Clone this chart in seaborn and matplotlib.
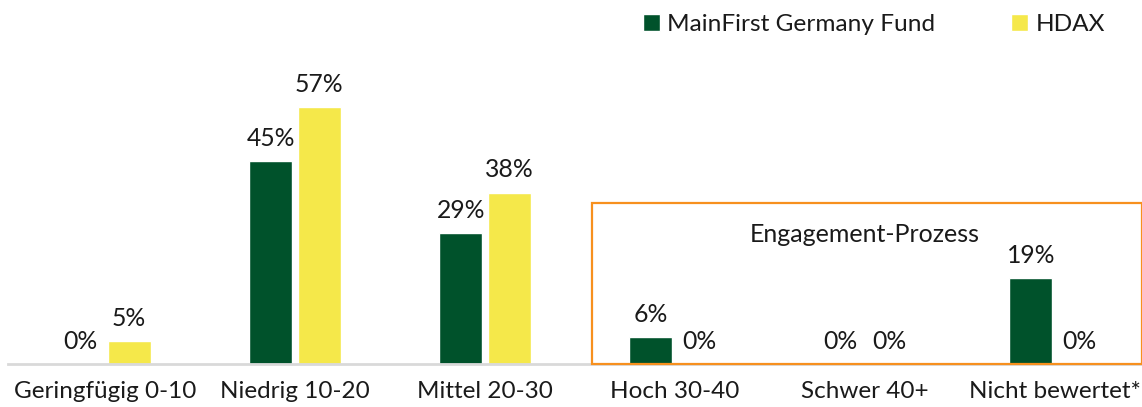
import pandas as pd
import numpy as np
import matplotlib
matplotlib.use("Agg")
import matplotlib.pyplot as plt
import seaborn as sns
from matplotlib.patches import Rectangle, Patch

# daten
kategorien = ["Geringfügig 0-10", "Niedrig 10-20", "Mittel 20-30",
              "Hoch 30-40", "Schwer 40+", "Nicht bewertet*"]
fonds = [0, 45, 29, 6, 0, 19]
hdax = [5, 57, 38, 0, 0, 0]
serien = ["MainFirst Germany Fund", "HDAX"]
box_titel = "Engagement-Prozess"

gruen = "#00522b"
gelb = "#f5e84a"
orange = "#f7901e"

df = pd.DataFrame({
    "kategorie": kategorien * 2,
    "wert": fonds + hdax,
    "serie": [serien[0]] * len(kategorien) + [serien[1]] * len(kategorien),
})

sns.set_style("white")
plt.rcParams["font.family"] = ["Lato", "DejaVu Sans"]

fig = plt.figure(figsize=(11.42, 4.07), dpi=100)
ax = fig.add_axes([8 / 1142, 43 / 407, 1 - 8 / 1142, 364 / 407])

sns.barplot(data=df, x="kategorie", y="wert", hue="serie", palette=[gruen, gelb],
            width=0.51, gap=0.11, saturation=1, legend=False, ax=ax)

for cont, werte in zip(ax.containers, [fonds, hdax]):
    ax.bar_label(cont, labels=[f"{v}%" for v in werte], padding=8,
                 fontsize=17.8, color="#1a1a1a")

ax.set_xlim(-0.51, 5.458)
ax.set_ylim(0, 80.7)
ax.set_xlabel("")
ax.set_ylabel("")
ax.set_yticks([])
ax.tick_params(axis="x", length=0, pad=12, labelsize=17.5, labelcolor="#1a1a1a")
for s in ["top", "left", "right"]:
    ax.spines[s].set_visible(False)
ax.spines["bottom"].set_color("#d9d9d9")
ax.spines["bottom"].set_linewidth(2)

# orange box um engagement-kategorien
ax.add_patch(Rectangle((3 - 0.437, 0), 2.895, 35.7, fill=False,
                       edgecolor=orange, linewidth=1.6, clip_on=False, zorder=5))
ax.text(4.0, 28.6, box_titel, ha="center", va="center", fontsize=18, color="#1a1a1a")

handles = [Patch(facecolor=gruen, label=serien[0]), Patch(facecolor=gelb, label=serien[1])]
fig.legend(handles=handles, loc="center right", bbox_to_anchor=(0.987, 0.94), ncol=2,
           frameon=False, fontsize=17.6, handlelength=0.7, handleheight=0.7,
           handletextpad=0.3, columnspacing=3.1, labelcolor="#1a1a1a")

fig.savefig("out.png", dpi=100)
